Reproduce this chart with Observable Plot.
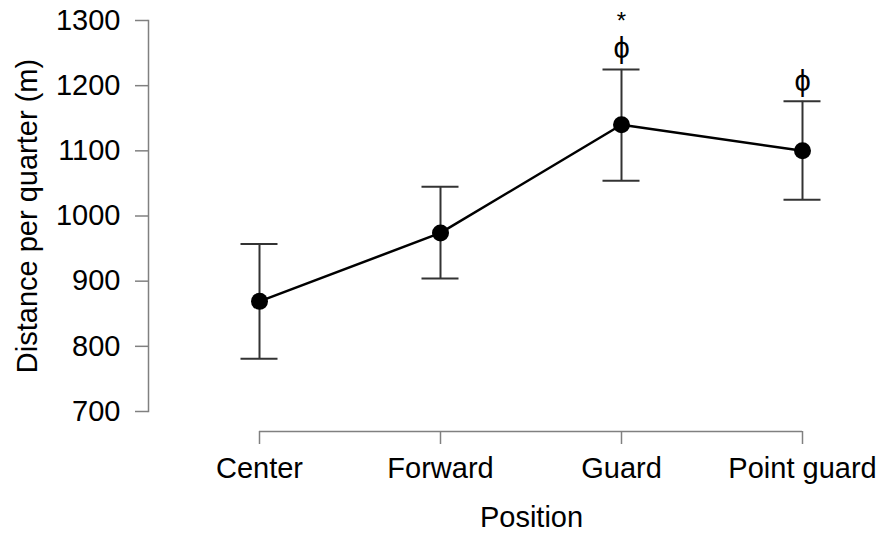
<!DOCTYPE html>
<html>
<head>
<meta charset="utf-8">
<script src="https://cdn.jsdelivr.net/npm/d3@7"></script>
<script src="https://cdn.jsdelivr.net/npm/@observablehq/plot@0.6"></script>
<style>
  html, body { margin: 0; padding: 0; background: #fff; }
</style>
</head>
<body>
<div id="chart"></div>
<script>
const positions = ["Center", "Forward", "Guard", "Point guard"];
const means = [869, 974, 1140, 1100];
const upper = [957, 1045, 1225, 1176];
const lower = [781, 904, 1054, 1025];
const yTicks = [700, 800, 900, 1000, 1100, 1200, 1300];
const annotations = [
  {pos: "Guard", label: "ϕ", offset: -21, size: 29},
  {pos: "Guard", label: "*", offset: -48, size: 24},
  {pos: "Point guard", label: "ϕ", offset: -20, size: 29}
];
const xTitle = "Position";
const yTitle = "Distance per quarter (m)";

const data = positions.map((p, i) => ({pos: p, mean: means[i], hi: upper[i], lo: lower[i]}));
const ann = annotations.map(a => ({...a, hi: data.find(d => d.pos === a.pos).hi}));

const font = "Liberation Sans, Arial, Helvetica, sans-serif";
const axisGrey = "#808080";

const chart = Plot.plot({
  width: 882,
  height: 533,
  marginTop: 20,
  marginBottom: 122,
  marginLeft: 148,
  marginRight: 0,
  style: {fontFamily: font, background: "#fff", color: "black"},
  x: {type: "point", domain: positions, range: [258, 803], padding: 0},
  y: {domain: [700, 1300]},
  marks: [
    Plot.frame({anchor: "left", stroke: axisGrey, strokeWidth: 1.5}),
    Plot.ruleY([700], {x1: () => positions[0], x2: () => positions[positions.length - 1], dy: 20, stroke: axisGrey, strokeWidth: 1.5}),
    Plot.axisY({ticks: yTicks, tickFormat: d => String(d), tickSize: 13, tickPadding: 15, fontSize: 29, label: null, stroke: axisGrey, strokeWidth: 1.5, fill: "black"}),
    Plot.axisX({tickSize: 13, tickPadding: 13, dy: 20, fontSize: 29, label: null, stroke: axisGrey, strokeWidth: 1.5, fill: "black"}),
    Plot.ruleX(data, {x: "pos", y1: "lo", y2: "hi", stroke: "#333", strokeWidth: 2}),
    Plot.ruleY(data, {y: "hi", x1: "pos", x2: "pos", insetLeft: -18.5, insetRight: -18.5, stroke: "#333", strokeWidth: 2}),
    Plot.ruleY(data, {y: "lo", x1: "pos", x2: "pos", insetLeft: -18.5, insetRight: -18.5, stroke: "#333", strokeWidth: 2}),
    Plot.line(data, {x: "pos", y: "mean", stroke: "black", strokeWidth: 2.5}),
    Plot.dot(data, {x: "pos", y: "mean", r: 8.5, fill: "black", stroke: "none"}),
    ...ann.map(a => Plot.text([a], {x: "pos", y: "hi", text: "label", dy: a.offset, fontSize: a.size, fill: "black", lineAnchor: "middle"})),
    Plot.text([yTitle], {text: d => d, frameAnchor: "left", rotate: -90, dx: -121, fontSize: 29, fill: "black", lineAnchor: "middle", textAnchor: "middle"}),
    Plot.text([xTitle], {text: d => d, frameAnchor: "bottom", dx: 16, dy: 106, fontSize: 29, fill: "black", lineAnchor: "middle"})
  ]
});
document.getElementById("chart").appendChild(chart);
</script>
</body>
</html>
